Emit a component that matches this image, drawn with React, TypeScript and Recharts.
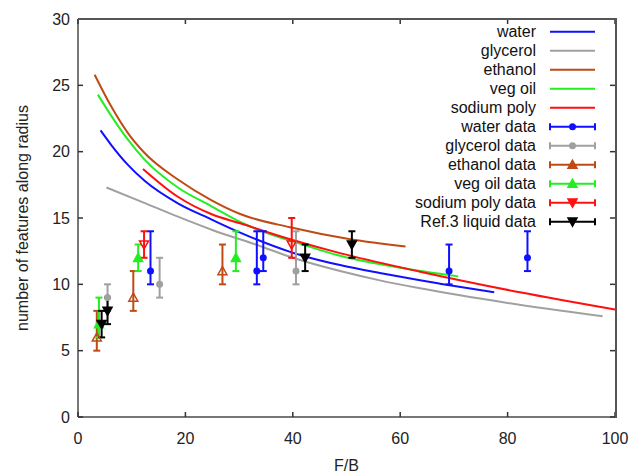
import { ComposedChart, Line, Scatter, ErrorBar, XAxis, YAxis, Legend } from "recharts";

const FONT = "'Liberation Sans', Arial, Helvetica, sans-serif";

const xTicks = [0, 20, 40, 60, 80, 100];
const yTicks = [0, 5, 10, 15, 20, 25, 30];
const X_MIN = 0;
const X_MAX = 100;
const Y_MIN = 0;
const Y_MAX = 30;

// model curves
const waterCurveX = [4.2, 6.2, 9.3, 12.4, 18.6, 24.8, 30.2, 39.5, 42.3, 48.8, 56.2, 63.7, 67.4, 77.5];
const waterCurveY = [21.6, 20.5, 19.0, 17.8, 16.1, 14.9, 13.9, 12.45, 12.1, 11.45, 10.85, 10.3, 10.05, 9.4];

const glycerolCurveX = [5.3, 12, 18.6, 25, 33.5, 40, 48.8, 56.2, 63.7, 80, 97.7];
const glycerolCurveY = [17.3, 16.2, 15.1, 14.1, 12.95, 12.0, 11.0, 10.3, 9.7, 8.6, 7.6];

const ethanolCurveX = [3.1, 6.2, 9.3, 12.4, 18.6, 24.8, 30.2, 39.5, 50.7, 61];
const ethanolCurveY = [25.8, 23.4, 21.4, 19.9, 17.9, 16.35, 15.3, 14.3, 13.4, 12.85];

const vegCurveX = [3.7, 6.2, 9.3, 12.4, 18.6, 24.8, 30.2, 42.6, 48.8, 60, 70.8];
const vegCurveY = [24.3, 22.7, 20.9, 19.4, 17.3, 15.9, 14.7, 12.9, 12.15, 11.25, 10.6];

const sodiumCurveX = [12.1, 18.6, 24.8, 30.2, 39.5, 48.8, 63.7, 82.3, 100];
const sodiumCurveY = [18.7, 16.6, 15.3, 14.6, 13.4, 12.35, 10.95, 9.4, 8.1];

// measured points with error ranges
const waterX = [13.5, 33.3, 34.5, 69.1, 83.7];
const waterY = [11, 11, 12, 11, 12];
const waterLo = [10, 10, 11, 10, 11];
const waterHi = [14, 14, 14, 13, 14];

const glycerolX = [5.5, 15.2, 40.6];
const glycerolY = [9, 10, 11];
const glycerolLo = [8, 9, 10];
const glycerolHi = [10, 12, 14];

const ethanolX = [3.5, 10.3, 26.9];
const ethanolY = [6, 9, 11];
const ethanolLo = [5, 8, 10];
const ethanolHi = [8, 11, 13];

const vegX = [3.9, 11.2, 29.4];
const vegY = [7, 12, 12];
const vegLo = [6, 11, 11];
const vegHi = [9, 13, 14];

const sodiumX = [12.3, 39.8];
const sodiumY = [13, 13];
const sodiumLo = [12, 12];
const sodiumHi = [14, 15];

const refX = [4.4, 5.5, 42.3, 51.0];
const refY = [7, 8, 12, 13];
const refLo = [6, 7, 11, 12];
const refHi = [8, 9, 13, 14];

const BLUE = "#1010ff";
const GREY = "#a0a0a0";
const BROWN = "#c04a14";
const GREEN = "#22ee22";
const RED = "#ff1010";
const BLACK = "#000000";
const FRAME = "#4a4a4a";

const W = 630;
const H = 476;
const M_TOP = 19;
const M_RIGHT = 15;
const Y_AXIS_W = 78;
const X_AXIS_H = 59;
const TICK = 5;

const curve = (xs: number[], ys: number[]) => xs.map((x, i) => ({ x, y: ys[i] }));
const points = (xs: number[], ys: number[], lo: number[], hi: number[]) =>
    xs.map((x, i) => ({ x, y: ys[i], err: [ys[i] - lo[i], hi[i] - ys[i]] }));

// inward ticks on all four sides, gnuplot style
const ticksBottom = xTicks.map((x) => ({ x, y: Y_MIN }));
const ticksTop = xTicks.map((x) => ({ x, y: Y_MAX }));
const ticksLeft = yTicks.map((y) => ({ x: X_MIN, y }));
const ticksRight = yTicks.map((y) => ({ x: X_MAX, y }));

const tickMark = (dx: number, dy: number) => (p: any) => (
    <path d={`M${p.cx},${p.cy}L${p.cx + dx},${p.cy + dy}`} stroke="#333" strokeWidth={1.5} fill="none" />
);

type Marker = "dot" | "triUp" | "triUpOpen" | "triDown" | "triDownOpen";

function drawMarker(kind: Marker, color: string, cx: number, cy: number) {
    const s = 4.5;
    if (kind === "dot") return <circle cx={cx} cy={cy} r={3.5} fill={color} />;
    if (kind === "triUp" || kind === "triUpOpen") {
        return (
            <polygon
                points={`${cx},${cy - s} ${cx - s},${cy + s * 0.8} ${cx + s},${cy + s * 0.8}`}
                fill={kind === "triUp" ? color : "none"}
                stroke={color}
                strokeWidth={1.5}
            />
        );
    }
    return (
        <polygon
            points={`${cx},${cy + s} ${cx - s},${cy - s * 0.8} ${cx + s},${cy - s * 0.8}`}
            fill={kind === "triDown" ? color : "none"}
            stroke={color}
            strokeWidth={1.5}
        />
    );
}

const shape = (kind: Marker, color: string) => (p: any) => <g>{drawMarker(kind, color, p.cx, p.cy)}</g>;

const legendRows: { name: string; color: string; marker?: Marker }[] = [
    { name: "water", color: BLUE },
    { name: "glycerol", color: GREY },
    { name: "ethanol", color: BROWN },
    { name: "veg oil", color: GREEN },
    { name: "sodium poly", color: RED },
    { name: "water data", color: BLUE, marker: "dot" },
    { name: "glycerol data", color: GREY, marker: "dot" },
    { name: "ethanol data", color: BROWN, marker: "triUp" },
    { name: "veg oil data", color: GREEN, marker: "triUp" },
    { name: "sodium poly data", color: RED, marker: "triDown" },
    { name: "Ref.3 liquid data", color: BLACK, marker: "triDown" },
];

function KeyBox() {
    return (
        <svg width={230} height={215} style={{ display: "block" }}>
            {legendRows.map((r, i) => {
                const y = 11.7 + i * 19;
                return (
                    <g key={r.name}>
                        <text x={156} y={y} dy="0.35em" textAnchor="end" fontSize={16} fontFamily={FONT} fill="#111">
                            {r.name}
                        </text>
                        <line x1={170} x2={215} y1={y} y2={y} stroke={r.color} strokeWidth={2} />
                        {r.marker && (
                            <g>
                                <line x1={170} x2={170} y1={y - 3.5} y2={y + 3.5} stroke={r.color} strokeWidth={2} />
                                <line x1={215} x2={215} y1={y - 3.5} y2={y + 3.5} stroke={r.color} strokeWidth={2} />
                                {drawMarker(r.marker, r.color, 192.5, y)}
                            </g>
                        )}
                    </g>
                );
            })}
        </svg>
    );
}

const tickStyle = { fontSize: 16, fill: "#222", fontFamily: FONT };

export default function App() {
    return (
        <div style={{ position: "absolute", left: 0, top: 0, width: W, height: H, background: "#fff" }}>
            <ComposedChart width={W} height={H} margin={{ top: M_TOP, right: M_RIGHT, left: 0, bottom: 0 }}>
                <XAxis
                    dataKey="x"
                    type="number"
                    domain={[X_MIN, X_MAX]}
                    ticks={xTicks}
                    height={X_AXIS_H}
                    axisLine={{ stroke: FRAME, strokeWidth: 1.5 }}
                    tickLine={false}
                    tickSize={0}
                    tickMargin={16}
                    tick={tickStyle}
                    label={{ value: "F/B", position: "insideBottom", offset: 5, fontSize: 16, fill: "#222", fontFamily: FONT }}
                />
                <YAxis
                    type="number"
                    domain={[Y_MIN, Y_MAX]}
                    ticks={yTicks}
                    width={Y_AXIS_W}
                    axisLine={{ stroke: FRAME, strokeWidth: 1.5 }}
                    tickLine={false}
                    tickSize={0}
                    tickMargin={8}
                    tick={tickStyle}
                    label={({ viewBox }: any) => {
                        const cx = viewBox.x + 22;
                        const cy = viewBox.y + viewBox.height / 2;
                        return (
                            <text x={cx} y={cy} dy="0.35em" transform={`rotate(-90 ${cx} ${cy})`} textAnchor="middle" fontSize={16} fill="#222" fontFamily={FONT}>
                                number of features along radius
                            </text>
                        );
                    }}
                />

                <Scatter data={ticksBottom} dataKey="y" shape={tickMark(0, -TICK)} isAnimationActive={false} />
                <Scatter data={ticksTop} dataKey="y" shape={tickMark(0, TICK)} isAnimationActive={false} />
                <Scatter data={ticksLeft} dataKey="y" shape={tickMark(TICK, 0)} isAnimationActive={false} />
                <Scatter data={ticksRight} dataKey="y" shape={tickMark(-TICK, 0)} isAnimationActive={false} />

                <Line data={curve(waterCurveX, waterCurveY)} dataKey="y" type="monotone" stroke={BLUE} strokeWidth={2} dot={false} isAnimationActive={false} />
                <Line data={curve(glycerolCurveX, glycerolCurveY)} dataKey="y" type="monotone" stroke={GREY} strokeWidth={2} dot={false} isAnimationActive={false} />
                <Line data={curve(ethanolCurveX, ethanolCurveY)} dataKey="y" type="monotone" stroke={BROWN} strokeWidth={2} dot={false} isAnimationActive={false} />
                <Line data={curve(vegCurveX, vegCurveY)} dataKey="y" type="monotone" stroke={GREEN} strokeWidth={2} dot={false} isAnimationActive={false} />
                <Line data={curve(sodiumCurveX, sodiumCurveY)} dataKey="y" type="monotone" stroke={RED} strokeWidth={2} dot={false} isAnimationActive={false} />

                <Scatter data={points(waterX, waterY, waterLo, waterHi)} dataKey="y" shape={shape("dot", BLUE)} isAnimationActive={false}>
                    <ErrorBar dataKey="err" direction="y" width={3.5} stroke={BLUE} strokeWidth={2} />
                </Scatter>
                <Scatter data={points(glycerolX, glycerolY, glycerolLo, glycerolHi)} dataKey="y" shape={shape("dot", GREY)} isAnimationActive={false}>
                    <ErrorBar dataKey="err" direction="y" width={3.5} stroke={GREY} strokeWidth={2} />
                </Scatter>
                <Scatter data={points(ethanolX, ethanolY, ethanolLo, ethanolHi)} dataKey="y" shape={shape("triUpOpen", BROWN)} isAnimationActive={false}>
                    <ErrorBar dataKey="err" direction="y" width={3.5} stroke={BROWN} strokeWidth={2} />
                </Scatter>
                <Scatter data={points(vegX, vegY, vegLo, vegHi)} dataKey="y" shape={shape("triUp", GREEN)} isAnimationActive={false}>
                    <ErrorBar dataKey="err" direction="y" width={3.5} stroke={GREEN} strokeWidth={2} />
                </Scatter>
                <Scatter data={points(sodiumX, sodiumY, sodiumLo, sodiumHi)} dataKey="y" shape={shape("triDownOpen", RED)} isAnimationActive={false}>
                    <ErrorBar dataKey="err" direction="y" width={3.5} stroke={RED} strokeWidth={2} />
                </Scatter>
                <Scatter data={points(refX, refY, refLo, refHi)} dataKey="y" shape={shape("triDown", BLACK)} isAnimationActive={false}>
                    <ErrorBar dataKey="err" direction="y" width={3.5} stroke={BLACK} strokeWidth={2} />
                </Scatter>

                <Legend
                    layout="horizontal"
                    verticalAlign="middle"
                    align="center"
                    content={() => <KeyBox />}
                    wrapperStyle={{ position: "absolute", left: 380, top: 20, width: 230, height: 215 }}
                />
            </ComposedChart>
            {/* top and right sides of the plot border */}
            <div
                style={{
                    position: "absolute",
                    left: Y_AXIS_W,
                    top: M_TOP - 1,
                    width: W - M_RIGHT - Y_AXIS_W,
                    height: H - X_AXIS_H - M_TOP,
                    borderTop: "2px solid #555",
                    borderRight: "2px solid #555",
                    pointerEvents: "none",
                }}
            />
        </div>
    );
}
